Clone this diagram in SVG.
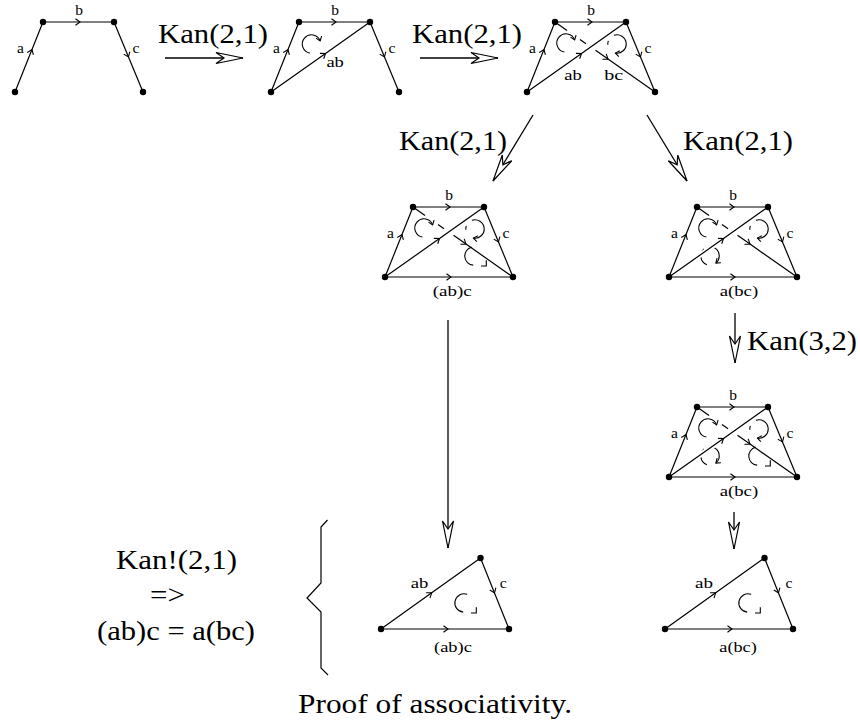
<svg xmlns="http://www.w3.org/2000/svg" width="860" height="725" viewBox="0 0 860 725">
<style>
.e{fill:none;stroke:#000;stroke-width:1.2;marker-mid:url(#ch)}
.s{fill:none;stroke:#000;stroke-width:1.2}
.h{fill:none;stroke:#fff;stroke-width:5}
.c{fill:none;stroke:#000;stroke-width:1.1}
.ca{fill:none;stroke:#000;stroke-width:1.1;marker-end:url(#chs)}
.d{fill:#000}
.l{font-size:15.5px}
.lm{font-size:15.5px;text-anchor:middle}
.big{font-size:28px}
.k{fill:none;stroke:#000;stroke-width:1.3;marker-end:url(#big)}
</style>
<defs>
<marker id="ch" markerUnits="userSpaceOnUse" orient="auto" viewBox="-6 -6 12 12" markerWidth="12" markerHeight="12" refX="0" refY="0" overflow="visible"><path d="M-4.5,-3.3 L0,0 L-4.5,3.3" fill="none" stroke="#000" stroke-width="1.1"/></marker>
<marker id="chs" markerUnits="userSpaceOnUse" orient="auto" viewBox="-6 -6 12 12" markerWidth="12" markerHeight="12" refX="0" refY="0" overflow="visible"><path d="M-4,-3 L0,0 L-4,3" fill="none" stroke="#000" stroke-width="1.1"/></marker>
<marker id="big" markerUnits="userSpaceOnUse" orient="auto" viewBox="-30 -8 32 16" markerWidth="32" markerHeight="16" refX="0" refY="0" overflow="visible"><path d="M0,0 L-27,-5.5 L-19,0 L-27,5.5 Z" fill="#fff" stroke="#000" stroke-width="1.2"/></marker>
<g id="cA"><path class="ca" d="M-1.6,9.06 A9.2,9.2 0 1 1 8.65,-3.15"/></g>
<g id="cB"><path class="ca" d="M-3.15,-8.65 A9.2,9.2 0 1 1 -1.6,9.06"/><path class="c" d="M-9.17,0.8 A9.2,9.2 0 0 1 -8.65,-3.15"/></g>
<g id="cC"><path class="c" d="M-2.38,-8.89 A9.2,9.2 0 0 0 -0.8,9.17"/><path class="c" d="M7,10 L12.3,10 L12.3,4.3"/></g>
<g id="cT"><path class="c" d="M3.15,-8.65 A9.2,9.2 0 1 0 -0.8,9.17"/><path class="c" d="M7,10 L12.3,10 L12.3,4.3"/></g>
<g id="cD"><path class="c" d="M-3.15,8.65 A9.2,9.2 0 0 1 -5.91,-7.05"/><path class="ca" d="M3.15,-8.65 A9.2,9.2 0 0 1 5.91,7.05"/></g>
<g id="dots4"><circle class="d" cx="0" cy="0" r="3.2"/><circle class="d" cx="28" cy="-70" r="3.2"/><circle class="d" cx="99" cy="-70" r="3.2"/><circle class="d" cx="128" cy="0" r="3.2"/></g>
<g id="abc"><path class="e" d="M0,0 L17,-42.5 L28,-70"/><path class="e" d="M28,-70 L65,-70 L99,-70"/><path class="e" d="M99,-70 L113.5,-35 L128,0"/></g>
<g id="bcl"><path class="s" d="M28,-70 L40,-61.6"/><path class="s" d="M53,-52.5 L59,-48.3"/><path class="e" d="M68.5,-41.65 L81,-32.9 L128,0"/></g>
<g id="abl"><path class="h" d="M20,-14.1 L82,-58"/><path class="e" d="M0,0 L54.5,-38.5 L99,-70"/></g>
<g id="abcLabels" font-family="Liberation Serif, Times New Roman, DejaVu Serif, serif"><text class="lm" x="5.5" y="-39.5">a</text><text class="lm" x="64" y="-77.3">b</text><text class="lm" x="121" y="-39.5">c</text></g>
</defs>
<g font-family="Liberation Serif, Times New Roman, DejaVu Serif, serif" fill="#000">

<g id="connectors">
<path class="k" d="M165,58 L243,58"/>
<path class="k" d="M420,58 L498,58"/>
<path class="k" d="M533,115 L493,181"/>
<path class="k" d="M647,115 L687,181"/>
<path class="k" d="M735,313 L735,363"/>
<path class="k" d="M734,512 L734,549"/>
<path class="k" d="M448,320 L448,548"/>
<text class="big" x="158" y="43" textLength="110" lengthAdjust="spacingAndGlyphs">Kan(2,1)</text>
<text class="big" x="412" y="43" textLength="110" lengthAdjust="spacingAndGlyphs">Kan(2,1)</text>
<text class="big" x="399" y="150" textLength="108" lengthAdjust="spacingAndGlyphs">Kan(2,1)</text>
<text class="big" x="683" y="150" textLength="110" lengthAdjust="spacingAndGlyphs">Kan(2,1)</text>
<text class="big" x="747" y="350" textLength="110" lengthAdjust="spacingAndGlyphs">Kan(3,2)</text>
</g>

<g id="fig1" transform="translate(15,92)">
<use href="#abc"/>
<use href="#abcLabels"/>
<use href="#dots4"/>
</g>

<g id="fig2" transform="translate(271,92)">
<use href="#cA" x="40.5" y="-48"/>
<path class="e" d="M0,0 L54.5,-38.5 L99,-70"/>
<use href="#abc"/>
<use href="#abcLabels"/>
<text class="l" x="55.4" y="-25.3" textLength="17.5" lengthAdjust="spacingAndGlyphs">ab</text>
<use href="#dots4"/>
</g>

<g id="fig3" transform="translate(527,92)">
<use href="#bcl"/>
<use href="#cA" x="39" y="-49"/>
<use href="#cB" x="90" y="-48"/>
<use href="#abl"/>
<use href="#abc"/>
<use href="#abcLabels"/>
<text class="l" x="37.2" y="-12" textLength="17.5" lengthAdjust="spacingAndGlyphs">ab</text>
<text class="l" x="77.3" y="-12" textLength="19" lengthAdjust="spacingAndGlyphs">bc</text>
<use href="#dots4"/>
</g>

<g id="fig4" transform="translate(385,277)">
<use href="#bcl"/>
<use href="#cA" x="39" y="-49"/>
<use href="#cB" x="90" y="-48"/>
<use href="#cC" x="89" y="-21"/>
<use href="#abl"/>
<use href="#abc"/>
<path class="e" d="M0,0 L66,0 L128,0"/>
<use href="#abcLabels"/>
<text class="l" x="47.7" y="19" textLength="39" lengthAdjust="spacingAndGlyphs">(ab)c</text>
<use href="#dots4"/>
</g>

<g id="fig5" transform="translate(669,277)">
<use href="#bcl"/>
<use href="#cA" x="39" y="-49"/>
<use href="#cB" x="90" y="-48"/>
<use href="#cD" x="41" y="-21"/>
<use href="#abl"/>
<use href="#abc"/>
<path class="e" d="M0,0 L66,0 L128,0"/>
<use href="#abcLabels"/>
<text class="l" x="50.7" y="19" textLength="38.5" lengthAdjust="spacingAndGlyphs">a(bc)</text>
<use href="#dots4"/>
</g>

<g id="fig6" transform="translate(669,477)">
<use href="#bcl"/>
<use href="#cA" x="39" y="-49"/>
<use href="#cB" x="90" y="-48"/>
<use href="#cC" x="89" y="-21"/>
<use href="#cD" x="41" y="-21"/>
<use href="#abl"/>
<use href="#abc"/>
<path class="e" d="M0,0 L66,0 L128,0"/>
<use href="#abcLabels"/>
<text class="l" x="50.7" y="19" textLength="38.5" lengthAdjust="spacingAndGlyphs">a(bc)</text>
<use href="#dots4"/>
</g>

<g id="fig7" transform="translate(381,629)">
<use href="#cT" x="83" y="-26"/>
<path class="e" d="M0,0 L50.7,-36.2 L99.5,-71"/>
<path class="e" d="M99.5,-71 L113.5,-36 L128,0"/>
<path class="e" d="M0,0 L67,0 L128,0"/>
<text class="l" x="29.7" y="-40.7" textLength="17.6" lengthAdjust="spacingAndGlyphs">ab</text>
<text class="lm" x="122.3" y="-40.7">c</text>
<text class="l" x="53" y="23" textLength="38" lengthAdjust="spacingAndGlyphs">(ab)c</text>
<circle class="d" cx="0" cy="0" r="3.2"/><circle class="d" cx="99.5" cy="-71" r="3.2"/><circle class="d" cx="128" cy="0" r="3.2"/>
</g>

<g id="fig8" transform="translate(665,629)">
<use href="#cT" x="83" y="-26"/>
<path class="e" d="M0,0 L50.7,-36.2 L99.5,-71"/>
<path class="e" d="M99.5,-71 L113.5,-36 L128,0"/>
<path class="e" d="M0,0 L67,0 L128,0"/>
<text class="l" x="30" y="-40.7" textLength="18" lengthAdjust="spacingAndGlyphs">ab</text>
<text class="lm" x="124" y="-40.7">c</text>
<text class="l" x="54.3" y="23" textLength="37.5" lengthAdjust="spacingAndGlyphs">a(bc)</text>
<circle class="d" cx="0" cy="0" r="3.2"/><circle class="d" cx="99.5" cy="-71" r="3.2"/><circle class="d" cx="128" cy="0" r="3.2"/>
</g>

<g id="conclusion">
<text class="big" x="116" y="569" textLength="121" lengthAdjust="spacingAndGlyphs">Kan!(2,1)</text>
<text class="big" x="150" y="603.5" textLength="35" lengthAdjust="spacingAndGlyphs">=&gt;</text>
<text class="big" x="97" y="640" textLength="158" lengthAdjust="spacingAndGlyphs">(ab)c = a(bc)</text>
<path class="s" d="M327.5,520 L321,527 L321,583 L307,598 L321,612 L321,668 L328,675"/>
</g>

<text font-size="27" x="298" y="713" textLength="274" lengthAdjust="spacingAndGlyphs">Proof of associativity.</text>
</g>
</svg>
